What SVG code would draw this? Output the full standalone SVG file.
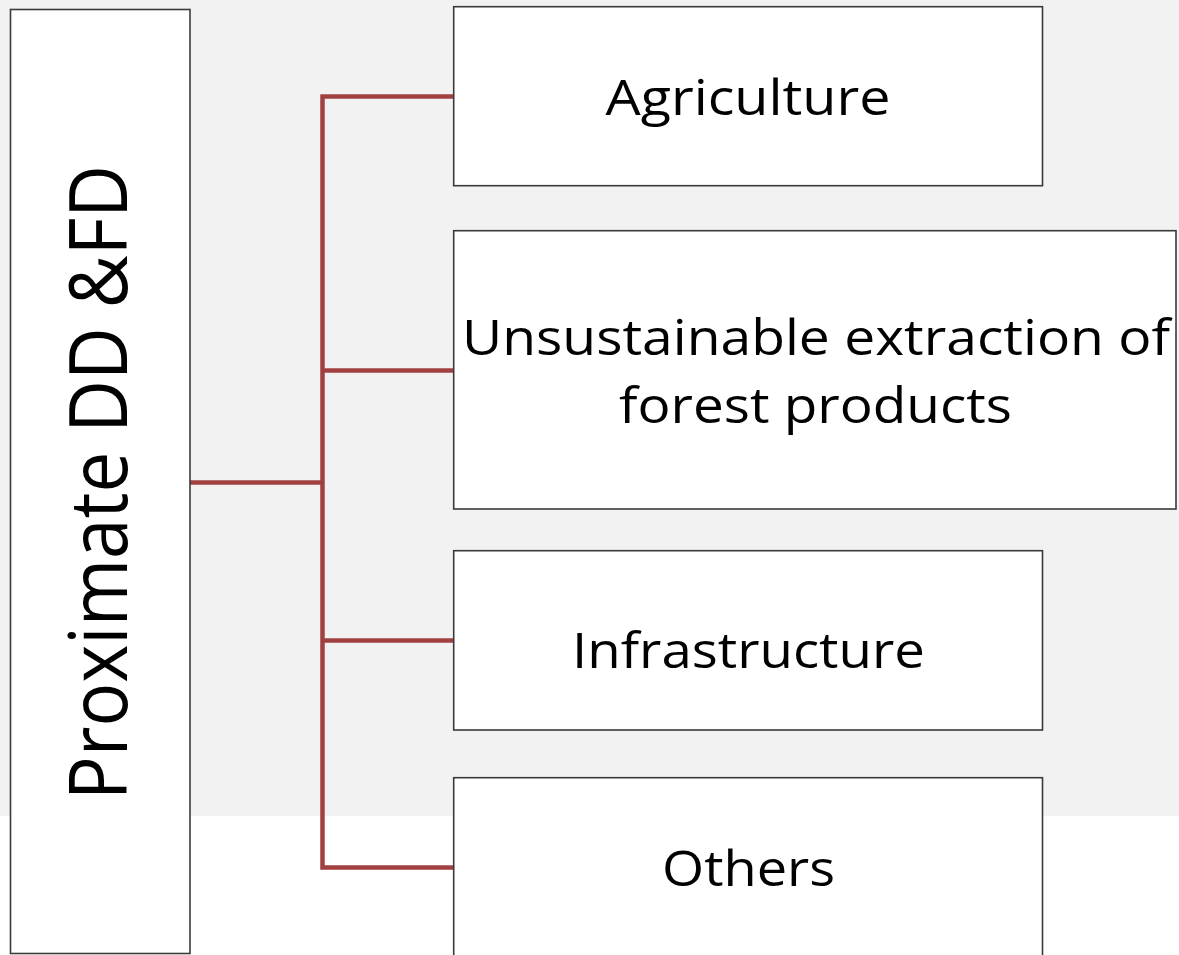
<svg xmlns="http://www.w3.org/2000/svg" width="1179" height="955" viewBox="0 0 1179 955">
<style>
.box{fill:#ffffff;stroke:#3a3a3a;stroke-width:1.6}
.lbl{font-family:"Open Sans","Liberation Sans",sans-serif;font-size:50px;fill:#000000;text-anchor:middle}
.con{fill:none;stroke:#a04040;stroke-width:4.5;stroke-linejoin:miter;stroke-linecap:butt}
</style>
<rect x="0" y="0" width="1179" height="955" fill="#ffffff"/>
<rect x="0" y="0" width="1179" height="816" fill="#f2f2f2"/>
<g id="connectors">
<path class="con" d="M190,482.5 H322.5"/>
<path class="con" d="M453.5,96.5 H322.5 V867.5 H453.5"/>
<path class="con" d="M322.5,370.5 H453.5"/>
<path class="con" d="M322.5,640.5 H453.5"/>
</g>
<g id="node-root">
<rect class="box" x="10.5" y="9.5" width="179.5" height="944"/>
<text class="lbl" style="font-size:80px" transform="translate(127,482.5) rotate(-90)" x="0" y="0" textLength="635" lengthAdjust="spacingAndGlyphs">Proximate DD &amp;FD</text>
</g>
<g id="node-agriculture">
<rect class="box" x="453.7" y="6.7" width="588.8" height="179"/>
<text class="lbl" x="748" y="115" textLength="285" lengthAdjust="spacingAndGlyphs">Agriculture</text>
</g>
<g id="node-extraction">
<rect class="box" x="453.7" y="230.7" width="722.3" height="278.3"/>
<text class="lbl" x="816" y="355" textLength="708" lengthAdjust="spacingAndGlyphs">Unsustainable extraction of</text>
<text class="lbl" x="815.5" y="423" textLength="393" lengthAdjust="spacingAndGlyphs">forest products</text>
</g>
<g id="node-infrastructure">
<rect class="box" x="453.7" y="550.7" width="588.8" height="179.3"/>
<text class="lbl" x="748.5" y="668" textLength="353" lengthAdjust="spacingAndGlyphs">Infrastructure</text>
</g>
<g id="node-others">
<rect class="box" x="453.7" y="777.7" width="588.8" height="190"/>
<text class="lbl" x="748.5" y="886" textLength="173" lengthAdjust="spacingAndGlyphs">Others</text>
</g>
</svg>
